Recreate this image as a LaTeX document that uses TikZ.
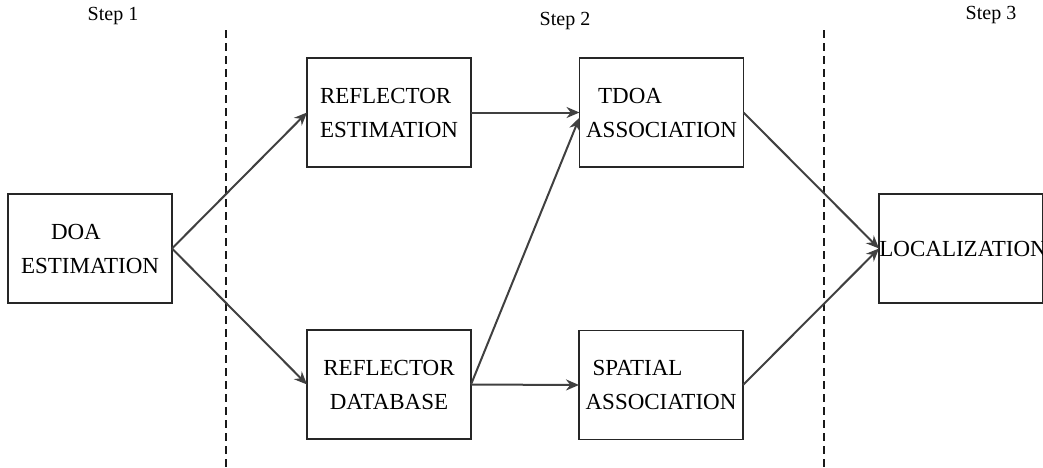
\documentclass[tikz,border=0pt]{standalone}
\usepackage{fontspec}
\setmainfont{Liberation Serif}
\usepackage{tikz}
\usetikzlibrary{arrows.meta}
\usepackage{xcolor}

\definecolor{linegray}{HTML}{404040}

\tikzset{
  box/.style={draw=black!85, line width=0.8pt, minimum width=82pt, minimum height=54.5pt,
    inner sep=0pt, outer sep=0pt, font=\fontsize{11.5}{17}\selectfont},
  flow/.style={draw=linegray, line width=1pt, -{Stealth[length=6.5pt, width=5.5pt]}},
  divider/.style={black!90, line width=0.65pt, dash pattern=on 4pt off 2.5pt},
  steplabel/.style={font=\fontsize{10}{12}\selectfont, inner sep=0pt}
}

\begin{document}
\begin{tikzpicture}[x=0.5pt, y=-0.5pt]

        \clip (0, 0) rectangle (1043, 467);

        % step columns
        \node[steplabel] (step1) at (113, 16) {Step 1};
        \node[steplabel] (step2) at (565, 21) {Step 2};
        \node[steplabel] (step3) at (991, 15) {Step 3};

        \draw[divider] (226, 30) -- (226, 467);
        \draw[divider] (824, 30) -- (824, 467);

        % blocks
        \node[box, align=left] (doa) at (90, 248.5) {\hspace*{15pt}DOA\\ESTIMATION};
        \node[box, align=left] (refest) at (389, 112.5) {REFLECTOR\\ESTIMATION};
        \node[box, align=center] (refdb) at (389, 384.5) {REFLECTOR\\DATABASE};
        \node[box, align=left] (tdoa) at (661.5, 112.5) {\hspace*{6pt}TDOA\\ASSOCIATION};
        \node[box, align=left] (spatial) at (661, 385) {\hspace*{3.5pt}SPATIAL\\ASSOCIATION};
        \node[box] (loc) at (961, 248.5) {};
        \node[anchor=west, inner sep=0pt, font=\fontsize{11.5}{17}\selectfont] (loctext) at (loc.west) {LOCALIZATION};

        \draw[flow] (doa.east) -- (refest.west);
        \draw[flow] (doa.east) -- (refdb.west);
        \draw[flow] (refest.east) -- (tdoa.west);
        \draw[flow] (refdb.east) -- ([yshift=-2.5pt]tdoa.west);
        \draw[flow] (refdb.east) -- (spatial.west);
        \draw[flow] (tdoa.east) -- (loc.west);
        \draw[flow] (spatial.east) -- (loc.west);

      \end{tikzpicture}
\end{document}
